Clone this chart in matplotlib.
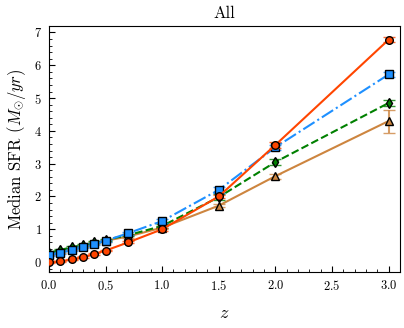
import numpy as np
import matplotlib
matplotlib.use('Agg')
import matplotlib.pyplot as plt
from matplotlib.ticker import MultipleLocator

plt.rcParams['font.family'] = 'serif'
plt.rcParams['font.serif'] = ['cmr10']
plt.rcParams['mathtext.fontset'] = 'cm'
plt.rcParams['axes.formatter.use_mathtext'] = True

z = [0.0, 0.1, 0.2, 0.3, 0.4, 0.5, 0.7, 1.0, 1.5, 2.0, 3.0]

sfr_red = [0.0, 0.02, 0.08, 0.15, 0.25, 0.35, 0.6, 1.0, 2.0, 3.57, 6.78]
err_red = [0.02, 0.02, 0.02, 0.02, 0.02, 0.02, 0.03, 0.04, 0.06, 0.08, 0.08]

sfr_blue = [0.22, 0.28, 0.38, 0.45, 0.55, 0.65, 0.88, 1.25, 2.2, 3.5, 5.72]
err_blue = [0.03, 0.03, 0.03, 0.03, 0.03, 0.03, 0.04, 0.05, 0.1, 0.08, 0.07]

sfr_green = [0.28, 0.37, 0.45, 0.52, 0.6, 0.68, 0.82, 1.1, 1.98, 3.05, 4.85]
err_green = [0.03, 0.03, 0.03, 0.03, 0.03, 0.03, 0.04, 0.05, 0.1, 0.1, 0.1]

sfr_orange = [0.25, 0.32, 0.4, 0.48, 0.57, 0.65, 0.78, 1.05, 1.72, 2.62, 4.3]
err_orange = [0.03, 0.03, 0.03, 0.03, 0.03, 0.03, 0.04, 0.05, 0.05, 0.08, 0.35]

fig = plt.figure(figsize=(4.04, 3.28), dpi=100)
ax = fig.add_axes([0.121, 0.171, 0.869, 0.75])

# error caps drawn a bit lighter than the lines, like the original
ax.errorbar(z, sfr_orange, yerr=err_orange, color='peru', ls='-', marker='^',
            mfc='peru', mec='k', ms=5.5, capsize=4, lw=1.5, ecolor=(0.8, 0.52, 0.25, 0.8), zorder=2)
ax.errorbar(z, sfr_green, yerr=err_green, color='green', ls='--', marker='d',
            mfc='green', mec='k', ms=5.5, capsize=4, lw=1.5, ecolor=(0.0, 0.5, 0.0, 0.8), zorder=3)
ax.errorbar(z, sfr_blue, yerr=err_blue, color='dodgerblue', ls='-.', marker='s',
            mfc='dodgerblue', mec='k', ms=5.5, capsize=4, lw=1.5, ecolor=(0.12, 0.56, 1.0, 0.8), zorder=4)
ax.errorbar(z, sfr_red, yerr=err_red, color='orangered', ls='-', marker='o',
            mfc='orangered', mec='k', ms=5.5, capsize=4, lw=1.5, ecolor=(1.0, 0.27, 0.0, 0.8), zorder=5)

ax.set_xlim(0, 3.1)
ax.set_ylim(-0.3, 7.2)
ax.xaxis.set_major_locator(MultipleLocator(0.5))
ax.xaxis.set_minor_locator(MultipleLocator(0.1))
ax.yaxis.set_major_locator(MultipleLocator(1))
ax.yaxis.set_minor_locator(MultipleLocator(0.2))
ax.tick_params(which='both', direction='in', top=False, right=False, labelsize=9)
ax.tick_params(which='major', length=4, pad=5)
ax.tick_params(which='minor', length=2)

ax.set_xlabel(r'$z$', fontsize=13, labelpad=9)
ax.set_ylabel(r'Median SFR $(M_{\odot}/yr)$', fontsize=12)
ax.set_title('All', fontsize=12)

fig.savefig('out.png', dpi=100)
